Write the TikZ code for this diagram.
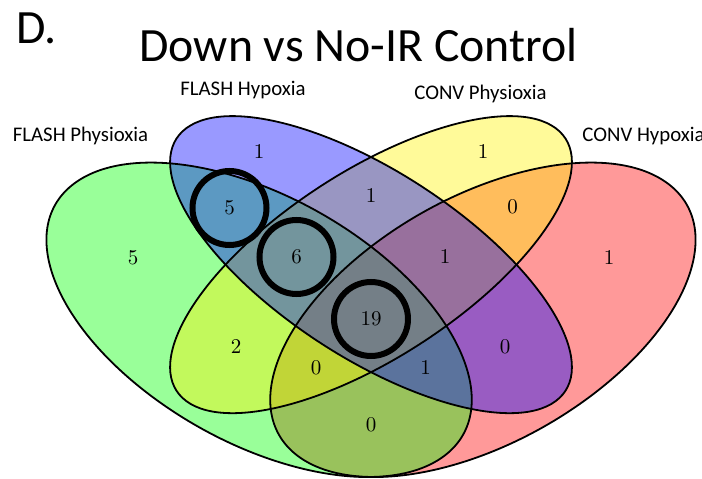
\documentclass[tikz,border=0pt]{standalone}
\usepackage{fontspec}
\newfontfamily\calibri{Carlito}
\usepackage{tikz}
\tikzset{
    setfill/.style={fill opacity=0.4},
    setline/.style={draw=black, line width=0.9pt},
    countlabel/.style={inner sep=0pt, font=\fontsize{10.5}{12}\selectfont},
    setlabel/.style={inner sep=0pt, anchor=base, font=\calibri\fontsize{10.4}{12}\selectfont},
    headline/.style={inner sep=0pt, anchor=base west, font=\calibri\fontsize{23.9}{28}\selectfont},
    ring/.style={circle, draw=black, line width=3pt, minimum size=37pt, inner sep=0pt},
}

\begin{document}
\begin{tikzpicture}[x=0.5pt, y=0.5pt]
    \useasboundingbox (0,0) rectangle (702,478);

    \node[headline] (panel) at (16,435) {D.};
    \node[headline] (title) at (139,416.3) {Down vs No-IR Control};

    % the four sets, on the unit square
    \begin{scope}[shift={(-2,-101)}, xscale=746, yscale=551.5]
        \foreach \cx/\cy/\ang/\b/\col in {0.65/0.47/45/0.2/red, 0.35/0.47/135/0.2/green,
                0.5/0.57/45/0.15/yellow, 0.5/0.57/135/0.15/blue}
            \fill[\col, setfill, rotate around={\ang:(\cx,\cy)}] (\cx,\cy) ellipse [x radius=0.35, y radius=\b];
        \foreach \cx/\cy/\ang/\b in {0.65/0.47/45/0.2, 0.35/0.47/135/0.2,
                0.5/0.57/45/0.15, 0.5/0.57/135/0.15}
            \draw[setline, rotate around={\ang:(\cx,\cy)}] (\cx,\cy) ellipse [x radius=0.35, y radius=\b];
    \end{scope}

    \node[setlabel] (lfh) at (243,382.5) {FLASH Hypoxia};
    \node[setlabel] (lcp) at (480.5,378.7) {CONV Physioxia};
    \node[setlabel, anchor=base west] (lfp) at (12.5,337) {FLASH Physioxia};
    \node[setlabel, anchor=base west] (lch) at (582,337) {CONV Hypoxia};

    \node[countlabel] (ngreen) at (133,220) {5};
    \node[countlabel] (nblue) at (259,326) {1};
    \node[countlabel] (nyellow) at (483,326) {1};
    \node[countlabel] (nred) at (609,220) {1};
    \node[countlabel] (ngb) at (229.5,270) {5};
    \node[countlabel] (nby) at (371,282) {1};
    \node[countlabel] (nyr) at (512.5,271) {0};
    \node[countlabel] (ngby) at (296.5,221) {6};
    \node[countlabel] (nbyr) at (445,221) {1};
    \node[countlabel] (ngy) at (236,131) {2};
    \node[countlabel] (nall) at (371,159) {19};
    \node[countlabel] (nbr) at (505,131) {0};
    \node[countlabel] (ngyr) at (316,110) {0};
    \node[countlabel] (ngbr) at (425.5,110) {1};
    \node[countlabel] (ngr) at (371,53) {0};

    \node[ring] (rgb) at (ngb) {};
    \node[ring] (rgby) at (ngby) {};
    \node[ring] (rall) at (nall) {};
\end{tikzpicture}
\end{document}
